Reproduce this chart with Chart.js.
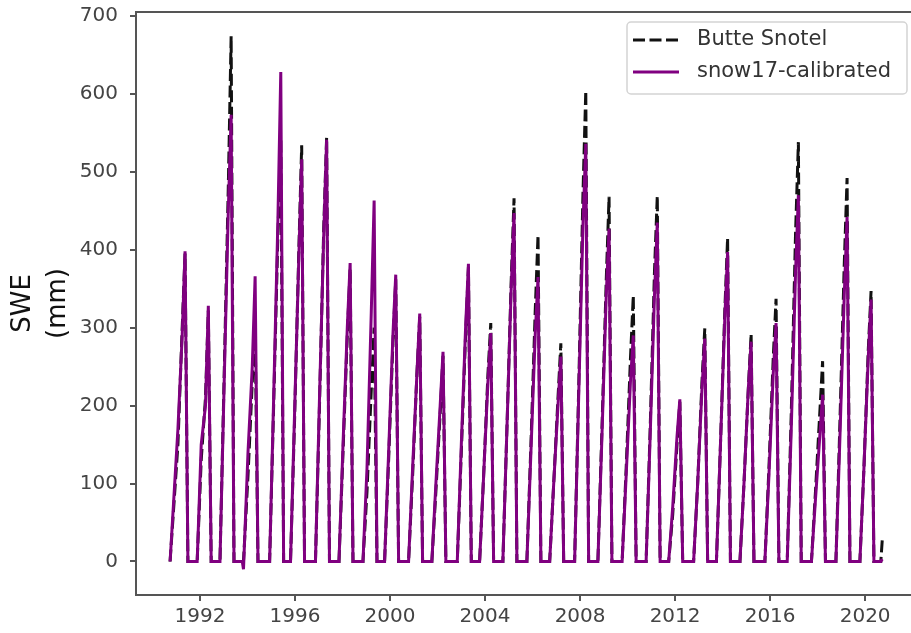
<!DOCTYPE html>
<html>
<head>
<meta charset="utf-8">
<script src="https://cdn.jsdelivr.net/npm/chart.js@4.4.1/dist/chart.umd.min.js"></script>
<style>
  html, body { margin: 0; padding: 0; background: #fff; overflow: hidden; }
  #wrap { position: absolute; left: 0; top: -12px; width: 925px; height: 645px; }
</style>
</head>
<body>
<div id="wrap"><canvas id="sweChart" width="925" height="645"></canvas></div>
<script>
// decimal years: per water year -> start, early, late, peak, melt-out
const dates = [
  1990.74, 1991.07, 1991.25, 1991.37, 1991.49,
  1991.88, 1992.05, 1992.23, 1992.35, 1992.47,
  1992.84, 1993.01, 1993.19, 1993.31, 1993.43,
  1993.78, 1993.83, 1994.02, 1994.20, 1994.32, 1994.44,
  1994.93, 1995.10, 1995.28, 1995.40, 1995.52,
  1995.81, 1995.98, 1996.16, 1996.28, 1996.40,
  1996.86, 1997.03, 1997.21, 1997.33, 1997.45,
  1997.85, 1998.02, 1998.20, 1998.32, 1998.44,
  1998.86, 1999.03, 1999.21, 1999.33, 1999.45,
  1999.77, 1999.94, 2000.12, 2000.24, 2000.36,
  2000.78, 2000.95, 2001.13, 2001.25, 2001.37,
  2001.76, 2001.93, 2002.11, 2002.23, 2002.35,
  2002.83, 2003.00, 2003.18, 2003.30, 2003.42,
  2003.77, 2003.94, 2004.12, 2004.24, 2004.36,
  2004.75, 2004.92, 2005.10, 2005.22, 2005.34,
  2005.76, 2005.93, 2006.11, 2006.23, 2006.35,
  2006.72, 2006.89, 2007.07, 2007.19, 2007.31,
  2007.77, 2007.94, 2008.12, 2008.24, 2008.36,
  2008.75, 2008.92, 2009.10, 2009.22, 2009.34,
  2009.77, 2009.94, 2010.12, 2010.24, 2010.36,
  2010.78, 2010.95, 2011.13, 2011.25, 2011.37,
  2011.73, 2011.90, 2012.08, 2012.20, 2012.32,
  2012.78, 2012.95, 2013.13, 2013.25, 2013.37,
  2013.74, 2013.91, 2014.09, 2014.21, 2014.33,
  2014.73, 2014.90, 2015.08, 2015.20, 2015.32,
  2015.78, 2015.95, 2016.13, 2016.25, 2016.37,
  2016.72, 2016.89, 2017.07, 2017.19, 2017.31,
  2017.74, 2017.91, 2018.09, 2018.21, 2018.33,
  2018.77, 2018.94, 2019.12, 2019.24, 2019.36,
  2019.78, 2019.95, 2020.13, 2020.25, 2020.37,
  2020.66, 2020.72
];

const snotelSwe = [
  0, 150, 300, 395, 0,
  0, 130, 210, 322, 0,
  0, 230, 480, 674, 0,
  0, 0, 110, 230, 300, 0,
  0, 200, 420, 543, 0,
  0, 180, 400, 534, 0,
  0, 200, 430, 544, 0,
  0, 140, 290, 376, 0,
  0, 90, 220, 300, 0,
  0, 130, 280, 362, 0,
  0, 110, 240, 314, 0,
  0, 90, 190, 264, 0,
  0, 140, 290, 378, 0,
  0, 110, 240, 306, 0,
  0, 170, 360, 466, 0,
  0, 150, 320, 419, 0,
  0, 100, 210, 280, 0,
  0, 220, 470, 604, 0,
  0, 170, 360, 468, 0,
  0, 120, 260, 341, 0,
  0, 170, 370, 469, 0,
  0, 60, 150, 205, 0,
  0, 100, 230, 299, 0,
  0, 150, 320, 415, 0,
  0, 100, 220, 292, 0,
  0, 120, 260, 337, 0,
  0, 190, 420, 538, 0,
  0, 90, 190, 257, 0,
  0, 180, 380, 492, 0,
  0, 120, 270, 347, 0,
  0, 27
];

const snow17Swe = [
  0, 170, 290, 398, 0,
  0, 150, 200, 328, 0,
  0, 220, 450, 573, 0,
  0, -10, 140, 250, 366, 0,
  0, 210, 440, 628, 0,
  0, 190, 390, 516, 0,
  0, 210, 420, 541, 0,
  0, 150, 300, 383, 0,
  0, 120, 320, 463, 0,
  0, 140, 290, 368, 0,
  0, 120, 240, 318, 0,
  0, 100, 200, 269, 0,
  0, 150, 300, 382, 0,
  0, 110, 230, 293, 0,
  0, 170, 350, 447, 0,
  0, 140, 290, 365, 0,
  0, 100, 200, 263, 0,
  0, 210, 430, 536, 0,
  0, 160, 340, 427, 0,
  0, 110, 230, 290, 0,
  0, 160, 340, 435, 0,
  0, 70, 160, 208, 0,
  0, 100, 220, 286, 0,
  0, 150, 310, 397, 0,
  0, 100, 220, 282, 0,
  0, 110, 240, 306, 0,
  0, 170, 370, 470, 0,
  0, 80, 160, 214, 0,
  0, 160, 340, 442, 0,
  0, 120, 260, 336, 0,
  0, 3
];

const seriesLabels = ['Butte Snotel', 'snow17-calibrated'];
const xTickYears = [1992, 1996, 2000, 2004, 2008, 2012, 2016, 2020];
const yTickValues = [0, 100, 200, 300, 400, 500, 600, 700];

const axisColor = '#555';

function toPoints(values) {
    return dates.map((d, i) => ({ x: d, y: values[i] }));
}

// matplotlib-like frame around the plot area
const framePlugin = {
    id: 'frame',
    afterDatasetsDraw(chart) {
        const { ctx, chartArea: a } = chart;
        ctx.save();
        ctx.strokeStyle = axisColor;
        ctx.lineWidth = 2;
        ctx.strokeRect(a.left, a.top, a.right - a.left, a.bottom - a.top);
        ctx.restore();
    }
};

// legend box in the upper right corner
const legendPlugin = {
    id: 'boxLegend',
    afterDraw(chart) {
        const ctx = chart.ctx;
        const top = chart.chartArea.top;
        const x = 627, y = top + 10, w = 280, h = 72, r = 4;
        ctx.save();
        ctx.beginPath();
        ctx.roundRect(x, y, w, h, r);
        ctx.fillStyle = 'rgba(255,255,255,0.85)';
        ctx.fill();
        ctx.strokeStyle = '#d4d4d4';
        ctx.lineWidth = 1.5;
        ctx.stroke();

        chart.data.datasets.forEach((ds, i) => {
            const rowY = top + 28 + i * 32;
            ctx.beginPath();
            ctx.setLineDash(ds.borderDash || []);
            ctx.strokeStyle = ds.borderColor;
            ctx.lineWidth = ds.borderWidth;
            ctx.moveTo(633, rowY);
            ctx.lineTo(679, rowY);
            ctx.stroke();
            ctx.setLineDash([]);
            ctx.fillStyle = '#333';
            ctx.font = '21px "DejaVu Sans"';
            ctx.textBaseline = 'middle';
            ctx.fillText(ds.label, 697, rowY);
        });
        ctx.restore();
    }
};

new Chart(document.getElementById('sweChart'), {
    type: 'line',
    data: {
        datasets: [
            {
                label: seriesLabels[0],
                data: toPoints(snotelSwe),
                borderColor: '#111',
                borderWidth: 3,
                borderDash: [12, 4.5],
                pointRadius: 0,
                tension: 0,
                order: 2
            },
            {
                label: seriesLabels[1],
                data: toPoints(snow17Swe),
                borderColor: '#800080',
                borderWidth: 3,
                pointRadius: 0,
                tension: 0,
                order: 1
            }
        ]
    },
    options: {
        responsive: false,
        animation: false,
        devicePixelRatio: 1,
        layout: { padding: { top: 0, right: 5, left: 0, bottom: 0 } },
        plugins: {
            legend: { display: false },
            tooltip: { enabled: false }
        },
        scales: {
            x: {
                type: 'linear',
                min: 1989.305,
                max: 2022.31,
                afterBuildTicks: axis => { axis.ticks = xTickYears.map(v => ({ value: v })); },
                afterFit: scale => { scale.height = 38; },
                grid: { display: true, drawOnChartArea: false, drawTicks: true, tickLength: 6, color: axisColor, lineWidth: 2 },
                border: { display: false },
                ticks: {
                    color: '#444',
                    padding: 4,
                    maxRotation: 0,
                    autoSkip: false,
                    font: { family: 'DejaVu Sans', size: 20 },
                    callback: value => String(value)
                }
            },
            y: {
                min: -43,
                max: 705,
                afterBuildTicks: axis => { axis.ticks = yTickValues.map(v => ({ value: v })); },
                afterFit: scale => { scale.width = 136; },
                grid: { display: true, drawOnChartArea: false, drawTicks: true, tickLength: 6, color: axisColor, lineWidth: 2 },
                border: { display: false },
                ticks: {
                    color: '#444',
                    padding: 12,
                    font: { family: 'DejaVu Sans', size: 20 },
                    callback: value => String(value)
                },
                title: {
                    display: true,
                    text: ['SWE', '(mm)'],
                    color: '#111',
                    font: { family: 'DejaVu Sans', size: 26, lineHeight: 1.35 },
                    padding: { top: 6, bottom: 0 }
                }
            }
        }
    },
    plugins: [framePlugin, legendPlugin]
});
</script>
</body>
</html>
